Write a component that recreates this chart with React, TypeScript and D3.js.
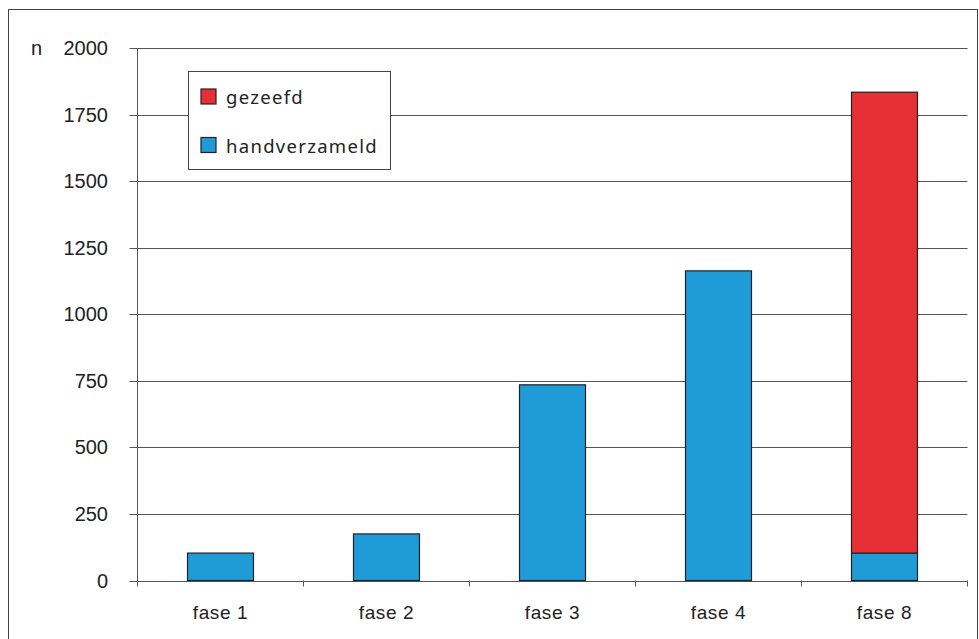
import React from "react";
import * as d3 from "d3";

const categories = ["fase 1", "fase 2", "fase 3", "fase 4", "fase 8"];
const handverzameld = [103, 175, 735, 1163, 103];
const gezeefd = [0, 0, 0, 0, 1731];
const yTicks = [0, 250, 500, 750, 1000, 1250, 1500, 1750, 2000];
const seriesNames = ["gezeefd", "handverzameld"];
const seriesColors = ["#e63035", "#1f9bd7"];

const W = 979;
const H = 639;
const left = 137.5;
const right = 967.5;
const top = 48;
const bottom = 580.5;

export default function App() {
  const x = d3.scaleBand<string>().domain(categories).range([left, right]).paddingInner(0.6).paddingOuter(0.3);
  const xb = d3.scaleBand<string>().domain(categories).range([left, right]);
  const y = d3.scaleLinear().domain([0, 2000]).range([bottom, top]);
  const numFont = "'Liberation Sans', Arial, sans-serif";
  const legFont = "'Noto Sans', sans-serif";
  return (
    <svg width={W} height={H} style={{ position: "absolute", left: 0, top: 0, background: "#fff" }}>
      <rect x={8.5} y={9.5} width={969} height={640} fill="#fff" stroke="#444" strokeWidth={1} />
      {yTicks.map((t) => (
        <g key={t}>
          <line x1={left - 8} x2={right} y1={Math.round(y(t)) + 0.5} y2={Math.round(y(t)) + 0.5} stroke="#555" strokeWidth={1} />
          <text x={108} y={y(t) + 7} textAnchor="end" fontFamily={numFont} fontSize={20} fill="#222">
            {t}
          </text>
        </g>
      ))}
      <text x={31} y={55} fontFamily={numFont} fontSize={20} fill="#222">n</text>
      <line x1={left} x2={left} y1={top} y2={bottom + 6} stroke="#555" strokeWidth={1} />
      {categories.map((c) => (
        <line key={"t" + c} x1={(xb(c) as number) + xb.bandwidth()} x2={(xb(c) as number) + xb.bandwidth()} y1={bottom} y2={bottom + 6} stroke="#555" strokeWidth={1} />
      ))}
      {categories.map((c, i) => {
        const bx = Math.round(x(c) as number) + 0.5;
        const bw = Math.round(x.bandwidth());
        const h0 = handverzameld[i];
        const g0 = gezeefd[i];
        return (
          <g key={c}>
            <rect x={bx} y={y(h0)} width={bw} height={y(0) - y(h0)} fill={seriesColors[1]} stroke="#222" strokeWidth={1.2} />
            {g0 > 0 && (
              <rect x={bx} y={y(h0 + g0)} width={bw} height={y(h0) - y(h0 + g0)} fill={seriesColors[0]} stroke="#222" strokeWidth={1.2} />
            )}
            <text x={(xb(c) as number) + xb.bandwidth() / 2} y={619} textAnchor="middle" fontFamily={numFont} fontSize={19} letterSpacing={0.6} fill="#222">
              {c}
            </text>
          </g>
        );
      })}
      <rect x={188.5} y={71.5} width={202} height={98} fill="#fff" stroke="#444" strokeWidth={1} />
      {seriesNames.map((s, i) => (
        <g key={s}>
          <rect x={201} y={89 + i * 48.5} width={15} height={15} fill={seriesColors[i]} stroke="#222" strokeWidth={1.2} />
          <text x={226} y={104 + i * 48.5} fontFamily={legFont} fontSize={18.5} letterSpacing={1.3} fill="#222">
            {s}
          </text>
        </g>
      ))}
    </svg>
  );
}
